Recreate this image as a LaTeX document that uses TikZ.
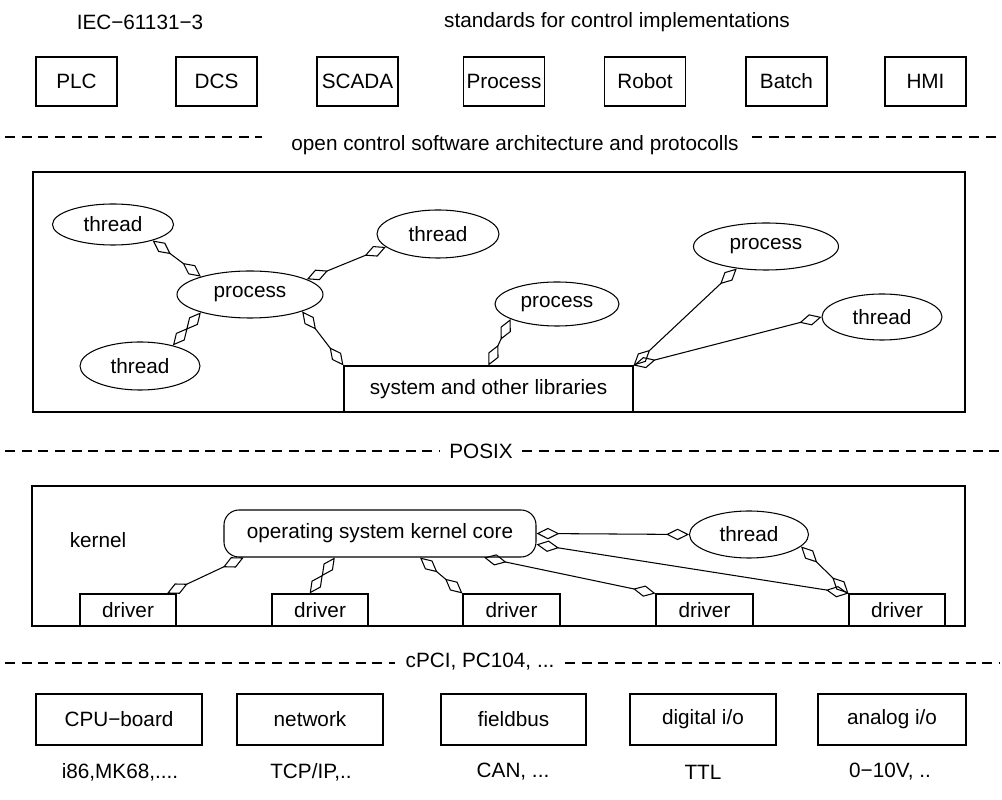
\documentclass[tikz,border=0pt]{standalone}
\usepackage{fontspec}
\setmainfont{Liberation Sans}
\usetikzlibrary{arrows.meta,shapes.geometric}
\begin{document}
\begin{tikzpicture}[x=0.02cm,y=-0.02cm,
  font=\fontsize{11.8}{14}\selectfont, line width=0.6pt,
  bx/.style 2 args={draw, rectangle, inner sep=0pt, minimum width=#1*0.02cm, minimum height=#2*0.02cm},
  ell/.style 2 args={draw, ellipse, inner sep=0pt, minimum width=#1*0.02cm, minimum height=#2*0.02cm},
  lnk/.style={{Diamond[open,length=13pt,width=6.5pt]}-{Diamond[open,length=13pt,width=6.5pt]}},
  sepline/.style={dash pattern=on 5.7pt off 3.8pt},
  lbl/.style={inner sep=0pt}]
\useasboundingbox (0,0) rectangle (1002,800);

% top labels
\node[lbl] (iec) at (140,22) {IEC−61131−3};
\node[lbl] (std) at (617,22) {standards for control implementations};

% standards row
\node[bx={81}{49}] (plc) at (76.5,81.5) {PLC};
\node[bx={81}{49}] (dcs) at (216.5,81.5) {DCS};
\node[bx={81}{49}] (scada) at (357.5,81.5) {SCADA};
\node[bx={81}{49}] (proc) at (504,81.5) {Process};
\node[bx={81}{49}] (robot) at (645,81.5) {Robot};
\node[bx={81}{49}] (batch) at (786.5,81.5) {Batch};
\node[bx={81}{49}] (hmi) at (925.5,81.5) {HMI};

% separator 1
\coordinate (s1a) at (5,137);
\coordinate (s1b) at (262,137);
\coordinate (s1c) at (752,137);
\coordinate (s1d) at (1000,137);
\draw[sepline] (s1a) -- (s1b);
\draw[sepline] (s1c) -- (s1d);
\node[lbl] (oca) at (515,145) {open control software architecture and protocolls};

% application area
\node[bx={932}{240}] (app) at (499,292) {};
\node[ell={121}{41}] (t1) at (113,224.5) {thread};
\node[ell={122}{48}] (t2) at (438,234) {thread};
\node[ell={146}{47}] (p1) at (250,294.5) {process};
\node[ell={120}{48}] (t3) at (140,366) {thread};
\node[ell={124}{44}] (p2) at (557,304) {process};
\node[ell={145}{47}] (p3) at (766,246.5) {process};
\node[ell={120}{46}] (t4) at (882,317) {thread};
\node[bx={289}{46}, fill=white] (sys) at (488.5,389) {system and other libraries};

\draw[lnk] (t1.-22) -- (p1.160);
\draw[lnk] (p1.15) -- (t2.-166);
\draw[lnk] (p1.-160) -- (t3.32);
\draw[lnk] (p1.-18) -- (sys.north west);
\draw[lnk] (p2.-162) -- (sys.north);
\draw[lnk] (p3.-143) -- (sys.north east);
\draw[lnk] (t4.west) -- (sys.north east);

% separator 2
\coordinate (s2a) at (5,451);
\coordinate (s2b) at (440,451);
\coordinate (s2c) at (522,451);
\coordinate (s2d) at (1000,451);
\draw[sepline] (s2a) -- (s2b);
\draw[sepline] (s2c) -- (s2d);
\node[lbl] (posix) at (481,451) {POSIX};

% kernel area
\node[bx={933}{140}] (kbox) at (498.5,556) {};
\node[lbl] (klbl) at (98,540) {kernel};
\node[bx={312}{47}, rounded corners=0.3cm] (core) at (380,533.5) {operating system kernel core};
\node[ell={119}{47}] (t5) at (749,534.5) {thread};
\node[bx={96}{32}] (d1) at (128,610) {driver};
\node[bx={96}{32}] (d2) at (320,610) {driver};
\node[bx={97}{32}] (d3) at (511.5,610) {driver};
\node[bx={97}{32}] (d4) at (704.5,610) {driver};
\node[bx={96}{32}] (d5) at (897,610) {driver};

\draw[lnk] (core.-170.8) -- (d1.23);
\draw[lnk] (core.-152) -- (d2.122);
\draw[lnk] (core.-31.7) -- (d3.north west);
\draw[lnk] (core.-13.2) -- (d4.north west);
\draw[lnk] (core.east) -- (t5.west);
\draw[lnk] (core.-4.2) -- (d5.north west);
\draw[lnk] (t5.-13) -- (d5.north west);

% separator 3
\coordinate (s3a) at (5,663);
\coordinate (s3b) at (395,663);
\coordinate (s3c) at (565,663);
\coordinate (s3d) at (1000,663);
\draw[sepline] (s3a) -- (s3b);
\draw[sepline] (s3c) -- (s3d);
\node[lbl] (cpci) at (480,662) {cPCI, PC104, ...};

% hardware row
\node[bx={166}{51}] (cpu) at (119,719.5) {CPU−board};
\node[bx={146}{51}] (net) at (310,719.5) {network};
\node[bx={145}{51}] (fb) at (513.5,719.5) {fieldbus};
\node[bx={146}{51}] (dio) at (703,719.5) {digital i/o};
\node[bx={148}{51}] (aio) at (892,719.5) {analog i/o};

\node[lbl] (cpux) at (120,772) {i86,MK68,....};
\node[lbl] (netx) at (311,772) {TCP/IP,..};
\node[lbl] (fbx) at (513,772) {CAN, ...};
\node[lbl] (diox) at (703,772) {TTL};
\node[lbl] (aiox) at (890,772) {0−10V, ..};
\end{tikzpicture}
\end{document}
